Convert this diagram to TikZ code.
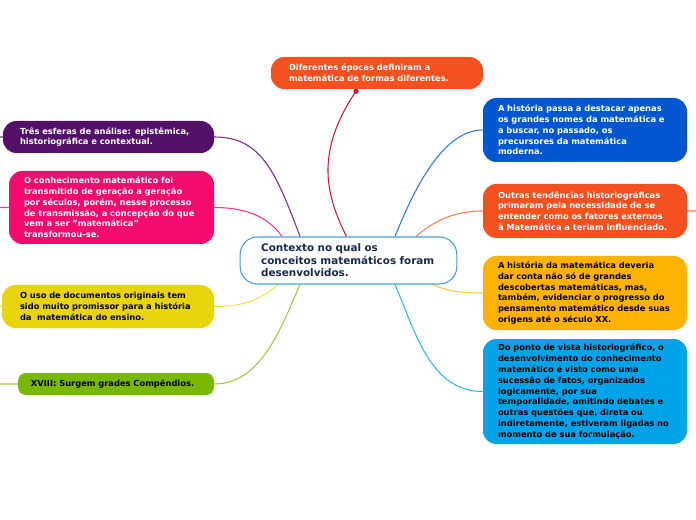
\documentclass[tikz,border=0pt]{standalone}
\usepackage{fontspec}
\setmainfont{DejaVu Sans}
\usetikzlibrary{calc,backgrounds}
\definecolor{ctrc}{HTML}{4A9FD8}
\definecolor{ctxtxt}{HTML}{1B2A4A}
\definecolor{epoc}{HTML}{F4511E}
\definecolor{redc}{HTML}{C41E3A}
\definecolor{purc}{HTML}{541068}
\definecolor{pinkc}{HTML}{F50A6E}
\definecolor{yelc}{HTML}{E8D40A}
\definecolor{grnc}{HTML}{7AB800}
\definecolor{bluc}{HTML}{0057D0}
\definecolor{orac}{HTML}{F4511E}
\definecolor{ambc}{HTML}{FFB300}
\definecolor{cyac}{HTML}{00A3E8}

\begin{document}
\begin{tikzpicture}[x=0.75pt,y=-0.75pt,
  font=\bfseries\fontsize{6.25}{8.1}\selectfont,
  topic/.style={rounded corners=10pt, inner ysep=0pt, align=left},
  righttopic/.style={topic, text width=130.5pt, inner xsep=11.25pt},
  link/.style={line width=0.8pt}]
  \useasboundingbox (0,0) rectangle (696,520);

  % central idea
  \node[draw=ctrc, fill=white, line width=0.8pt, rounded corners=13pt, text=ctxtxt,
    font=\bfseries\fontsize{7.8}{9.4}\selectfont, text width=131pt, inner xsep=15.75pt,
    inner ysep=0pt, minimum height=35.25pt, align=left] (ctx) at (348.5,260.5)
    {Contexto no qual os\\conceitos matemáticos foram\\desenvolvidos.};

  % top
  \node[topic, fill=epoc, text=white, text width=132pt, inner xsep=13.5pt, minimum height=24pt]
    (epocas) at (377,73) {Diferentes épocas definiram a\\matemática de formas diferentes.};

  % left side
  \node[topic, fill=purc, text=white, text width=132.75pt, inner xsep=12.75pt, minimum height=24pt]
    (esferas) at (108.5,137) {Três esferas de análise: epistêmica,\\historiográfica e contextual.};
  \node[topic, fill=pinkc, text=white, text width=131.25pt, inner xsep=11.25pt, minimum height=54.75pt]
    (conhec) at (111.5,207.5) {O conhecimento matemático foi\\transmitido de geração a geração\\por séculos, porém, nesse processo\\de transmissão, a concepção do que\\vem a ser "matemática"\\transformou-se.};
  \node[topic, fill=yelc, text=black, text width=132pt, inner xsep=13.5pt, minimum height=32.25pt]
    (documentos) at (108,306.5) {O uso de documentos originais tem\\sido muito promissor para a história\\da\ \ matemática do ensino.};
  \node[topic, rounded corners=6pt, fill=grnc, text=black, text width=127.5pt, inner xsep=9.75pt, minimum height=16.5pt]
    (xviii) at (116,384) {XVIII: Surgem grades Compêndios.};

  % right side
  \node[righttopic, fill=bluc, text=white, minimum height=48pt]
    (destacar) at (585,130) {A história passa a destacar apenas\\os grandes nomes da matemática e\\a buscar, no passado, os\\precursores da matemática\\moderna.};
  \node[righttopic, fill=orac, text=white, minimum height=40.5pt]
    (tendencias) at (585,211) {Outras tendências historiográficas\\primaram pela necessidade de se\\entender como os fatores externos\\à Matemática a teriam influenciado.};
  \node[righttopic, fill=ambc, text=black, minimum height=55.5pt]
    (progresso) at (585,293) {A história da matemática deveria\\dar conta não só de grandes\\descobertas matemáticas, mas,\\também, evidenciar o progresso do\\pensamento matemático desde suas\\origens até o século XX.};
  \node[righttopic, fill=cyac, text=black, minimum height=78.75pt]
    (ponto) at (585,391.5) {Do ponto de vista historiográfico, o\\desenvolvimento do conhecimento\\matemático é visto como uma\\sucessão de fatos, organizados\\logicamente, por sua\\temporalidade, omitindo debates e\\outras questões que, direta ou\\indiretamente, estiveram ligadas no\\momento de sua formulação.};

  % connectors
  \begin{scope}[on background layer]
    \coordinate (epdot) at ($(epocas.south)+(-21,2)$);
    \draw[link, redc] (epdot) .. controls +(-42,62) and +(-20,-40) .. ($(ctx.north)+(-2,0)$);
    \fill[redc] (epdot) circle (2pt);
    \draw[link, purc!85] ($(ctx.north)+(-48.5,0)$) .. controls +(-25,-67) and +(46,0) .. (esferas.east) -- ++(-220,0);
    \draw[link, pinkc!80] ($(ctx.north)+(-66.5,0)$) .. controls +(-12,-17) and +(36,0) .. (conhec.east) -- ++(-220,0);
    \draw[link, yelc!70] ($(ctx.south)+(-70.5,0)$) .. controls +(-13,11) and +(36,0) .. (documentos.east) -- ++(-220,0);
    \draw[link, grnc!75] ($(ctx.south)+(-48.5,0)$) .. controls +(-20,46) and +(46,0) .. (xviii.east) -- ++(-220,0);
    \draw[link, bluc!80] ($(ctx.north)+(46.5,0)$) .. controls +(15,-37) and +(-43,0) .. (destacar.west);
    \draw[link, orac!75] ($(ctx.north)+(67.5,0)$) .. controls +(14,-12) and +(-33,0) .. (tendencias.west) -- ++(220,0);
    \draw[link, ambc!75] ($(ctx.south)+(83.5,0)$) .. controls +(13,5) and +(-28,0) .. (progresso.west);
    \draw[link, cyac!80] ($(ctx.south)+(46.5,0)$) .. controls +(20,46) and +(-53,0) .. (ponto.west);
  \end{scope}
\end{tikzpicture}
\end{document}
